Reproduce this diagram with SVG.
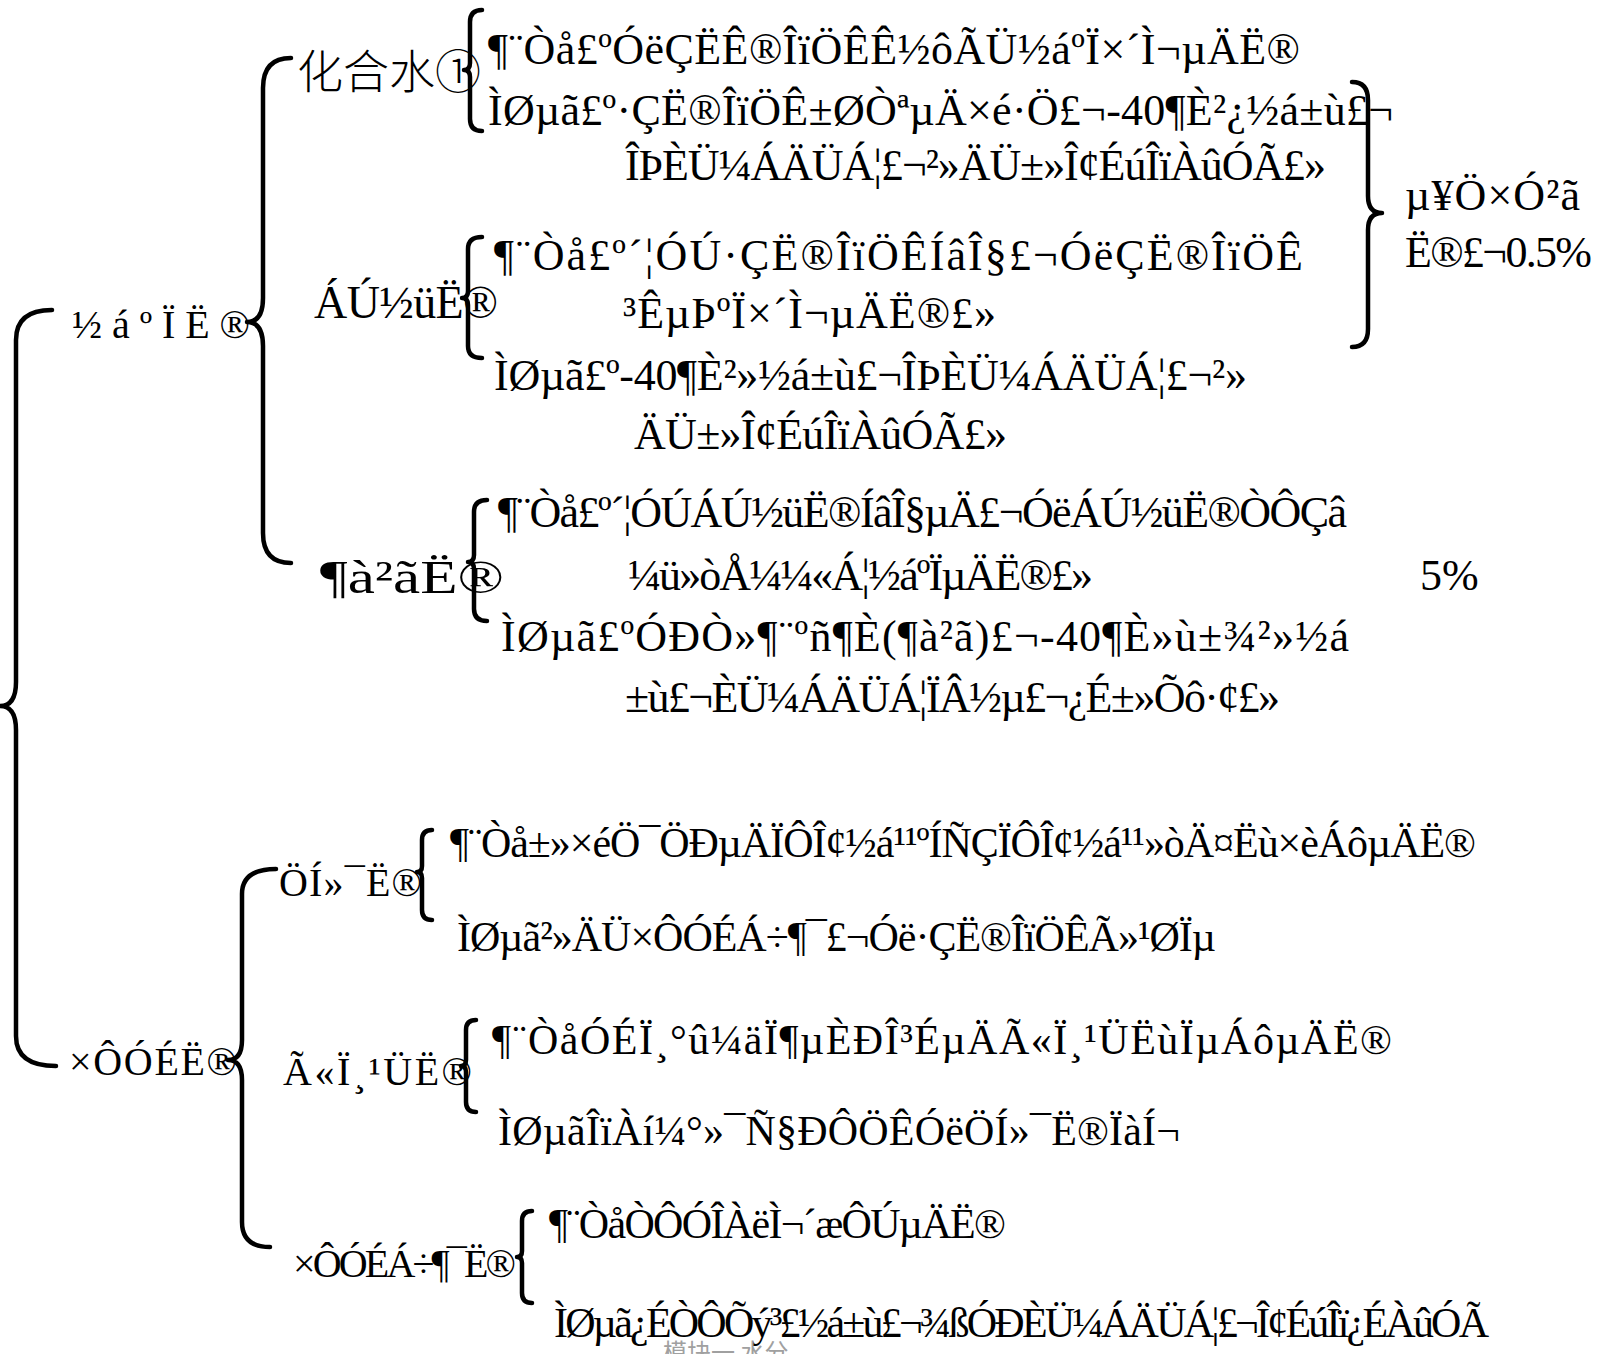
<svg xmlns="http://www.w3.org/2000/svg" width="1602" height="1354" viewBox="0 0 1602 1354">
<style>
.brace{fill:none;stroke:#000;stroke-width:4.5;stroke-linecap:round;stroke-linejoin:round}
.t{font-family:"Liberation Serif","Times New Roman",serif;font-size:44px;fill:#000}
.lbl{font-family:"Liberation Serif","Times New Roman",serif;font-size:46px;fill:#000}
.m{font-family:"Liberation Serif","Times New Roman",serif;font-size:42px;fill:#000}
.ml{font-family:"Liberation Serif","Times New Roman",serif;font-size:40px;fill:#000}
.cjk{font-family:"Noto Sans CJK SC",sans-serif;font-size:46px;font-weight:300;fill:#000}
.foot{font-family:"Noto Sans CJK SC",sans-serif;font-size:24px;fill:#a0a0a0}
</style>
<rect width="1602" height="1354" fill="#fff"/>
<g id="connectors">
<path class="brace" d="M52,310 Q16,310 16,340 L16,682 Q16,706 0,706 Q16,706 16,730 L16,1036 Q16,1066 56,1066"/>
<path class="brace" d="M291,58 Q263,58 263,88 L263,298 Q263,322 247,322 Q263,322 263,346 L263,533 Q263,563 291,563"/>
<path class="brace" d="M1352,82 Q1368,82 1368,100 L1368,196 Q1368,213 1382,213 Q1368,213 1368,230 L1368,329 Q1368,347 1352,347"/>
<path class="brace" d="M276,869 Q242,869 242,894 L242,1040 Q242,1060 228,1060 Q242,1060 242,1080 L242,1222 Q242,1247 270,1247"/>
<path class="brace" d="M482,10 Q470,10 470,22 L470,63 Q470,70 464,70 Q470,70 470,77 L470,119 Q470,131 482,131"/>
<path class="brace" d="M482,237 Q468,237 468,249 L468,291 Q468,298 462,298 Q468,298 468,305 L468,346 Q468,358 482,358"/>
<path class="brace" d="M487,500 Q474,500 474,512 L474,555 Q474,562 468,562 Q474,562 474,569 L474,609 Q474,621 487,621"/>
<path class="brace" d="M432,830 Q422,830 422,840 L422,866 Q422,872 417,872 Q422,872 422,878 L422,910 Q422,920 432,920"/>
<path class="brace" d="M476,1020 Q466,1020 466,1030 L466,1060 Q466,1066 461,1066 Q466,1066 466,1072 L466,1102 Q466,1112 476,1112"/>
<path class="brace" d="M532,1211 Q522,1211 522,1221 L522,1251 Q522,1257 517,1257 Q522,1257 522,1263 L522,1293 Q522,1303 532,1303"/>
</g>
<g id="node-jiehe">
<text class="ml" x="72" y="338" textLength="178" lengthAdjust="spacing">½áºÏË®</text>
</g>
<g id="node-huahe">
<text class="cjk" x="297" y="88">化合水①</text>
<text class="t" x="488" y="64" textLength="812" lengthAdjust="spacing">¶¨Òå£ºÓëÇËÊ®ÎïÖÊÊ½ôÃÜ½áºÏ×´Ì¬µÄË®</text>
<text class="t" x="488" y="125" textLength="905" lengthAdjust="spacing">ÌØµã£º·ÇË®ÎïÖÊ±ØÒªµÄ×é·Ö£¬-40¶È²¿½á±ù£¬</text>
<text class="t" x="625" y="180" textLength="701" lengthAdjust="spacing">ÎÞÈÜ¼ÁÄÜÁ¦£¬²»ÄÜ±»Î¢ÉúÎïÀûÓÃ£»</text>
</g>
<g id="node-danfenzi">
<text class="t" x="1405" y="210" textLength="175" lengthAdjust="spacing">µ¥Ö×Ó²ã</text>
<text class="t" x="1405" y="267" textLength="187" lengthAdjust="spacing">Ë®£¬0.5%</text>
</g>
<g id="node-linjin">
<text class="lbl" x="314" y="318" textLength="184" lengthAdjust="spacing">ÁÚ½üË®</text>
<text class="t" x="494" y="270" textLength="809" lengthAdjust="spacing">¶¨Òå£º´¦ÓÚ·ÇË®ÎïÖÊÍâÎ§£¬ÓëÇË®ÎïÖÊ</text>
<text class="t" x="623" y="328" textLength="373" lengthAdjust="spacing">³ÊµÞºÏ×´Ì¬µÄË®£»</text>
<text class="t" x="494" y="390" textLength="753" lengthAdjust="spacing">ÌØµã£º-40¶È²»½á±ù£¬ÎÞÈÜ¼ÁÄÜÁ¦£¬²»</text>
<text class="t" x="634" y="449" textLength="373" lengthAdjust="spacing">ÄÜ±»Î¢ÉúÎïÀûÓÃ£»</text>
</g>
<g id="node-duoceng">
<text class="lbl" x="320" y="593" textLength="184" lengthAdjust="spacingAndGlyphs">¶à²ãË®</text>
<text class="t" x="498" y="527" textLength="849" lengthAdjust="spacing">¶¨Òå£º´¦ÓÚÁÚ½üË®ÍâÎ§µÄ£¬ÓëÁÚ½üË®ÒÔÇâ</text>
<text class="t" x="628" y="590" textLength="465" lengthAdjust="spacing">¼ü»òÅ¼¼«Á¦½áºÏµÄË®£»</text>
<text class="t" x="501" y="651" textLength="848" lengthAdjust="spacing">ÌØµã£ºÓÐÒ»¶¨ºñ¶È(¶à²ã)£¬-40¶È»ù±¾²»½á</text>
<text class="t" x="625" y="712" textLength="655" lengthAdjust="spacing">±ù£¬ÈÜ¼ÁÄÜÁ¦ÏÂ½µ£¬¿É±»Õô·¢£»</text>
<text class="t" x="1420" y="590">5%</text>
</g>
<g id="node-ziyou">
<text class="ml" x="69" y="1075" textLength="168" lengthAdjust="spacing">×ÔÓÉË®</text>
</g>
<g id="node-zhihua">
<text class="ml" x="279" y="896" textLength="143" lengthAdjust="spacing">ÖÍ»¯Ë®</text>
<text class="m" x="450" y="857" textLength="1026" lengthAdjust="spacing">¶¨Òå±»×éÖ¯ÖÐµÄÏÔÎ¢½á¹¹ºÍÑÇÏÔÎ¢½á¹¹»òÄ¤Ëù×èÁôµÄË®</text>
<text class="m" x="457" y="951" textLength="759" lengthAdjust="spacing">ÌØµã²»ÄÜ×ÔÓÉÁ÷¶¯£¬Óë·ÇË®ÎïÖÊÃ»¹ØÏµ</text>
</g>
<g id="node-maoxiguan">
<text class="ml" x="283" y="1085" textLength="189" lengthAdjust="spacing">Ã«Ï¸¹ÜË®</text>
<text class="m" x="492" y="1054" textLength="900" lengthAdjust="spacing">¶¨ÒåÓÉÏ¸°û¼äÏ¶µÈÐÎ³ÉµÄÃ«Ï¸¹ÜËùÏµÁôµÄË®</text>
<text class="m" x="498" y="1145" textLength="682" lengthAdjust="spacing">ÌØµãÎïÀí¼°»¯Ñ§ÐÔÖÊÓëÖÍ»¯Ë®ÏàÍ¬</text>
</g>
<g id="node-liudong">
<text class="ml" x="293" y="1277" textLength="223" lengthAdjust="spacing">×ÔÓÉÁ÷¶¯Ë®</text>
<text class="m" x="549" y="1238" textLength="457" lengthAdjust="spacing">¶¨ÒåÒÔÓÎÀëÌ¬´æÔÚµÄË®</text>
<text class="m" x="554" y="1337" textLength="935" lengthAdjust="spacing">ÌØµã¿ÉÒÔÕý³£½á±ù£¬¾ßÓÐÈÜ¼ÁÄÜÁ¦£¬Î¢ÉúÎï¿ÉÀûÓÃ</text>
</g>
<text class="foot" x="663" y="1361">模块一  水分</text>
</svg>
